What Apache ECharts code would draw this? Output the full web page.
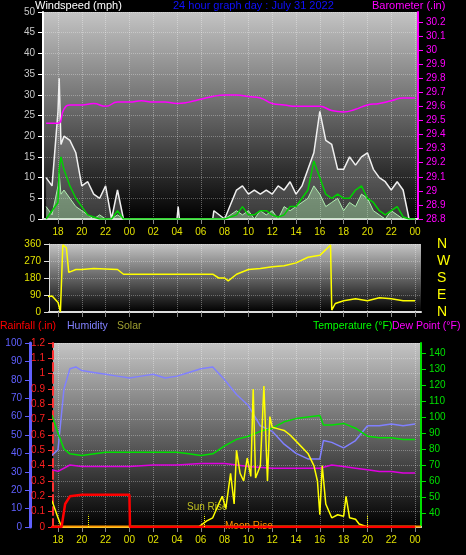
<!DOCTYPE html>
<html><head><meta charset="utf-8">
<script src="https://cdn.jsdelivr.net/npm/echarts@6/dist/echarts.min.js"></script>
<style>html,body{margin:0;background:#000}#c{width:466px;height:555px}</style>
</head><body><div id="c"></div>
<script>
// ---- data (hours since 00:00 of the previous day) ----
const hourLabels = [18,20,22,24,26,28,30,32,34,36,38,40,42,44,46,48];
const windTimes = [17,17.5,18,18.1,18.25,18.5,19,19.5,20,20.5,21,21.5,22,22.5,23,23.5,24,26,28,28.1,28.2,30,31,31.1,32,33,33.5,34,34.5,35,35.5,36,36.5,37,37.5,38,38.5,39,39.5,40,40.5,41,41.5,42,42.5,43,43.5,44,44.5,45,45.5,46,46.5,47,47.5,48];
const windGust  = [10,8,26,34,18,20,19,16,8,9,6,5,8,0,7,0,0,0,0,3,0,0,0,2,0,7,8,6,7,6,7,6,8,7,9,6,8,12,16,26,19,18,12,12,15,13,15,16,12,10,9,7,9,7,0,0];
const windAvg   = [0,2,4,12,15,12,8,5,3,1,0.5,0,0,0,2,0,0,0,0,0,0,0,0,0,0,1,3,1,1,2,2,1,0.5,1,3,3,5,7,14,10,6,5,6,5,5,7,8,5,4,2,1,2,3,0.5,0,0];
const windLight = [3,1,8,11,6,7,5,3,2,1,0,1,0,0,1,0,0,0,0,0,0,0,0,0,0,2,1,2,0,2,1,2,0,3,2,3,4,5,8,6,3,4,5,2,4,3,6,5,2,1,0,2,1,0,0,0];
const baroTimes = [17,18,18.5,19,20,21,22,23,24,25,26,27,28,29,30,31,32,33,34,35,36,37,38,39,40,41,42,43,44,45,46,47,48];
const baro = [29.48,29.48,29.58,29.61,29.61,29.62,29.60,29.63,29.63,29.64,29.63,29.63,29.62,29.63,29.65,29.67,29.68,29.68,29.67,29.66,29.62,29.61,29.60,29.60,29.60,29.57,29.56,29.58,29.61,29.62,29.64,29.66,29.66];
const dirTimes = [17,17.5,18,18.2,18.4,18.7,18.9,19.5,20,21,22,23,23.5,24,26,28,30,31,31.5,32,32.3,33,34,35,36,37,38,39,40,40.5,40.9,41,41.3,42,43,44,45,46,47,48];
const windDir  = [80,85,50,0,355,340,210,225,225,230,228,225,200,200,200,200,200,200,180,180,165,200,225,230,240,245,260,290,300,330,355,10,45,60,70,60,75,70,60,60];
const humTimes = [17,17.5,18,18.5,19,19.5,20,21,22,23,24,25,26,27,28,29,30,31,32,33,34,35,36,37,38,39,40,40.3,41,42,43,44,45,46,47,48];
const humidity = [40,39,42,75,86,87,85,84,83,82,81,82,83,81,82,84,86,87,80,72,66,55,52,45,40,37,37,47,46,43,47,55,55,56,55,56];
const tempTimes = [17,17.5,18,18.5,19,20,22,24,26,28,29,30,31,32,33,34,35,36,37,38,39,40,40.3,41,42,43,44,45,46,47,48];
const temperature = [101,101,90,80,77,76,78,78,78,78,77,76,77,82,86,88,91,93,97,99,100,101,95,95,96,93,88,87,87,86,86];
const dewTimes = [17,18,19,20,22,24,26,28,30,32,34,36,38,40,41,42,43,44,45,46,47,48];
const dewPoint = [68,66,70,69,69,69,70,70,71,71,69,68,68,68,70,69,68,67,66,66,65,65];
const rainTimes = [17,18.3,18.6,19,20,24,24.05,48];
const rainfall = [0,0,0.15,0.2,0.21,0.21,0,0];
const solarTimes = [17,17.3,17.5,18,18.3,29.8,30.5,31,31.5,31.8,32.1,32.5,32.8,33,33.3,33.6,33.9,34.2,34.4,34.6,35,35.3,35.6,35.8,36,36.5,37,37.5,38,39,39.5,39.8,40,40.2,40.5,41,41.5,42,42.2,42.5,43,43.3,44,48];
const solar = [180,160,170,60,0,0,40,60,150,200,120,350,150,500,350,300,450,330,900,320,400,920,300,720,650,640,630,600,560,480,400,300,80,400,150,60,80,70,200,60,50,20,0,0];
const dirLabels = {0:'N',90:'E',180:'S',270:'W',360:'N'};

const zip = (t, v) => t.map((x, i) => [x, v[i]]);
const bg = {type:'linear',x:0,y:0,x2:0,y2:1,colorStops:[{offset:0,color:'#c4c4c4'},{offset:0.55,color:'#5a5a5a'},{offset:1,color:'#000'}]};
const F = 'Liberation Sans';
const xLab = {color:'#e0e000',fontSize:10,fontFamily:F,customValues:hourLabels,formatter:v=>String(Math.round(v)%24).padStart(2,'0')};
const vSplit = {show:true,lineStyle:{color:'rgba(255,255,255,0.35)',type:'dotted'}};
function xAxis(grid,min,max){return {type:'value',gridIndex:grid,min,max,axisLabel:xLab,axisTick:{customValues:hourLabels,lineStyle:{color:'#888'}},axisLine:{lineStyle:{color:'#ddd',width:2}},splitLine:vSplit};}
const hSplit = {show:true,lineStyle:{color:'rgba(255,255,255,0.3)',type:'dotted'}};

const chart = echarts.init(document.getElementById('c'));
chart.setOption({
  backgroundColor:'#000',
  animation:false,
  graphic:[
    {type:'text',left:35,top:0,style:{text:'Windspeed (mph)',fill:'#fff',font:'11px '+F}},
    {type:'text',left:173,top:0,style:{text:'24 hour graph day : July 31 2022',fill:'#1010ff',font:'11px '+F}},
    {type:'text',left:372,top:0,style:{text:'Barometer (.in)',fill:'#ff00ff',font:'11px '+F}},
    {type:'text',left:0,top:321,style:{text:'Rainfall (.in)',fill:'#ff0000',font:'10.5px '+F}},
    {type:'text',left:67,top:321,style:{text:'Humidity',fill:'#8080ff',font:'10.5px '+F}},
    {type:'text',left:117,top:321,style:{text:'Solar',fill:'#a0a030',font:'10.5px '+F}},
    {type:'text',left:313,top:321,style:{text:'Temperature (°F)',fill:'#00ff00',font:'10.5px '+F}},
    {type:'text',left:392,top:321,style:{text:'Dew Point (°F)',fill:'#ff00ff',font:'10.5px '+F}},
    {type:'text',left:187,top:502,style:{text:'Sun Rise',fill:'#c0c020',font:'10px '+F}},
    {type:'text',left:225,top:521,style:{text:'Moon Rise',fill:'#ff9900',font:'10px '+F}}
  ],
  grid:[
    {left:43,right:48,top:12,height:207,show:true,backgroundColor:bg,borderWidth:0},
    {left:49,right:45,top:244,height:68,show:true,backgroundColor:bg,borderWidth:0},
    {left:53,right:45,top:343,height:184,show:true,backgroundColor:bg,borderWidth:0}
  ],
  xAxis:[xAxis(0,16.74,48.25),Object.assign(xAxis(1,17.24,48.5),{axisLabel:{show:false}}),xAxis(2,17.58,48.5)],
  yAxis:[
    {type:'value',gridIndex:0,position:'left',min:0,max:50,interval:5,axisLabel:{color:'#c8c8c8',fontSize:10,fontFamily:F},axisLine:{show:true,lineStyle:{color:'#fff',width:2}},axisTick:{show:true,lineStyle:{color:'#fff'}},splitLine:hSplit},
    {type:'value',gridIndex:0,position:'right',min:28.8,max:30.27,interval:0.1,axisLabel:{color:'#ff00ff',fontSize:10,fontFamily:F,showMaxLabel:false,formatter:v=>(Math.round(v*10)/10).toString()},axisTick:{show:true,lineStyle:{color:'#ff00ff'}},axisLine:{show:true,lineStyle:{color:'#ff00ff',width:2}},splitLine:{show:false}},
    {type:'value',gridIndex:1,position:'left',min:0,max:360,interval:90,axisLabel:{color:'#e0e000',fontSize:10,fontFamily:F},axisLine:{show:true,lineStyle:{color:'#ddd'}},axisTick:{show:true},splitLine:hSplit},
    {type:'value',gridIndex:1,position:'right',min:0,max:360,interval:90,offset:8,axisLabel:{color:'#ffff00',fontSize:14,fontFamily:F,formatter:v=>dirLabels[v]},axisLine:{show:false},axisTick:{show:false},splitLine:{show:false}},
    {type:'value',gridIndex:2,position:'left',min:0,max:1.2,interval:0.1,axisLabel:{color:'#ff2020',fontSize:10,fontFamily:F,formatter:v=>String(+v.toFixed(1))},axisLine:{show:true,lineStyle:{color:'#ff3030',width:2,type:'dashed'}},axisTick:{show:true,lineStyle:{color:'#ff3030'}},splitLine:hSplit},
    {type:'value',gridIndex:2,position:'left',min:0,max:100,interval:10,offset:23,axisLabel:{color:'#6060ff',fontSize:10,fontFamily:F},axisLine:{show:true,lineStyle:{color:'#6060ff',width:3}},axisTick:{show:true,lineStyle:{color:'#6060ff'}},splitLine:{show:false}},
    {type:'value',gridIndex:2,position:'right',min:31.25,max:146.25,axisLabel:{color:'#00e000',fontSize:10,fontFamily:F,customValues:[40,50,60,70,80,90,100,110,120,130,140]},axisTick:{show:true,customValues:[40,50,60,70,80,90,100,110,120,130,140],lineStyle:{color:'#00e000'}},axisLine:{show:true,lineStyle:{color:'#00e000',width:2}},splitLine:{show:false}},
    {type:'value',gridIndex:2,min:0,max:1200,show:false}
  ],
  series:[
    {type:'line',xAxisIndex:0,yAxisIndex:0,data:zip(windTimes,windGust),showSymbol:false,lineStyle:{color:'#f0f0f0',width:1.5},areaStyle:{color:'rgba(230,230,230,0.35)'},z:2},
    {type:'line',xAxisIndex:0,yAxisIndex:0,data:zip(windTimes,windLight),showSymbol:false,lineStyle:{color:'#b0f0b0',width:1},areaStyle:{color:'rgba(180,240,180,0.6)'},z:3},
    {type:'line',xAxisIndex:0,yAxisIndex:0,data:zip(windTimes,windAvg),showSymbol:false,lineStyle:{color:'#00d000',width:1.5},z:4},
    {type:'line',xAxisIndex:0,yAxisIndex:1,data:zip(baroTimes,baro),showSymbol:false,smooth:true,lineStyle:{color:'#ff00ff',width:1.5},z:5},
    {type:'line',xAxisIndex:1,yAxisIndex:2,data:zip(dirTimes,windDir),showSymbol:false,lineStyle:{color:'#ffff00',width:1.5}},
    {type:'line',xAxisIndex:2,yAxisIndex:5,data:zip(humTimes,humidity),showSymbol:false,lineStyle:{color:'#8080ff',width:1.5}},
    {type:'line',xAxisIndex:2,yAxisIndex:6,data:zip(tempTimes,temperature),showSymbol:false,lineStyle:{color:'#00e000',width:1.5}},
    {type:'line',xAxisIndex:2,yAxisIndex:6,data:zip(dewTimes,dewPoint),showSymbol:false,lineStyle:{color:'#e000e0',width:1.5}},
    {type:'line',xAxisIndex:2,yAxisIndex:7,data:zip(solarTimes,solar),showSymbol:false,lineStyle:{color:'#ffff00',width:1.5},
      markLine:{silent:true,symbol:'none',label:{show:false},lineStyle:{color:'#ffff00',type:'dotted',width:1},data:[[{coord:[20.5,0]},{coord:[20.5,80]}],[{coord:[30.3,0]},{coord:[30.3,80]}],[{coord:[44,0]},{coord:[44,80]}]]}},
    {type:'line',xAxisIndex:2,yAxisIndex:7,data:[[17.58,3],[48.5,3]],showSymbol:false,lineStyle:{color:'#ff9900',width:2}},
    {type:'line',xAxisIndex:2,yAxisIndex:4,data:zip(rainTimes,rainfall),showSymbol:false,lineStyle:{color:'#ff0000',width:2.5}}
  ]
});
</script></body></html>
